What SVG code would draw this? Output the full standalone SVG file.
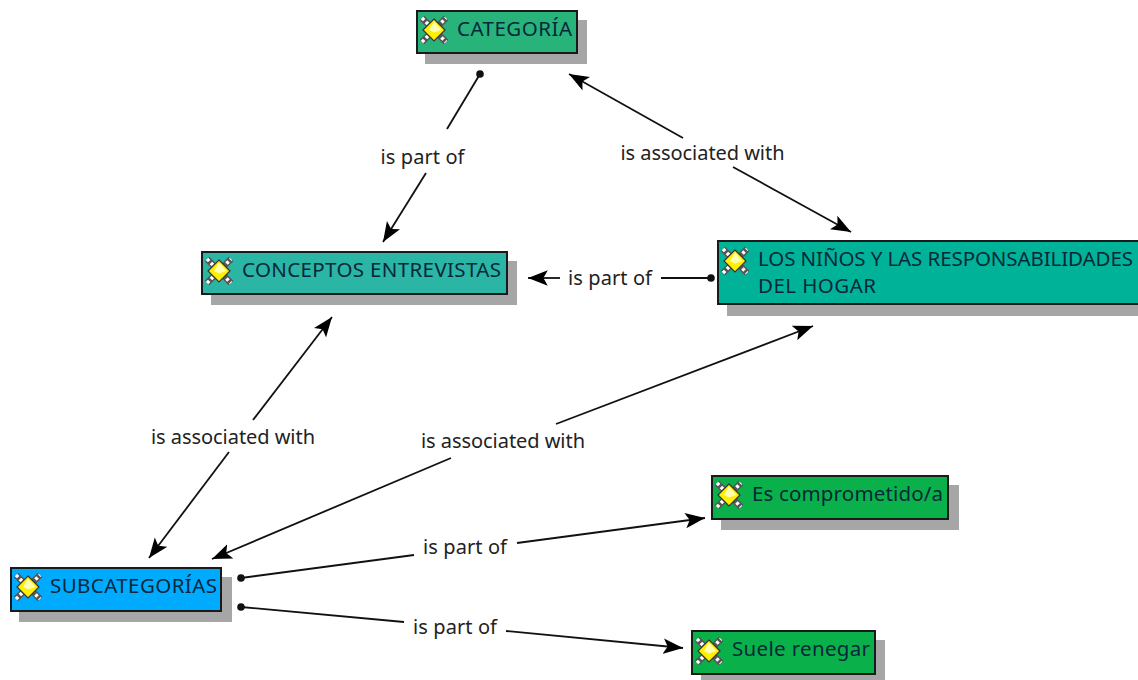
<svg xmlns="http://www.w3.org/2000/svg" width="1138" height="680" viewBox="0 0 1138 680">
<style>
text{font-family:"Noto Sans","DejaVu Sans",sans-serif;font-size:20px}
.n{fill:#06283a;font-size:20.500px}
.l{fill:#222;text-anchor:middle}
.s{fill:#a6a6a6}
.b{stroke:#1a1a1a;stroke-width:2}
.c{fill:none;stroke:#111;stroke-width:1.8}
</style>
<defs>
<marker id="a" markerUnits="userSpaceOnUse" markerWidth="22" markerHeight="16" refX="18" refY="7" orient="auto-start-reverse" viewBox="0 0 20 14"><path d="M0 0L18 7L0 14L4 7Z" fill="#000"/></marker>
<marker id="d" markerUnits="userSpaceOnUse" markerWidth="9" markerHeight="9" refX="4.500" refY="4.500" viewBox="0 0 9 9"><circle cx="4.500" cy="4.500" r="3.800" fill="#111"/></marker>
<g id="i">
<path d="M-12-12L12 12M-12 12L12-12" stroke="#555" stroke-width="6.500"/>
<path d="M-12-12L12 12M-12 12L12-12" stroke="#fff" stroke-width="3.500" stroke-dasharray="3 2.500"/>
<path d="M0-11L11 0L0 11L-11 0Z" fill="#ffef00" stroke="#333" stroke-width="1.200"/>
<path d="M0-8.500L7.500 0L0 2.500L-5 0Z" fill="#ffffb0"/>
</g>
</defs>
<g id="connectors">
<path class="c" marker-start="url(#d)" d="M480 74L447 129"/>
<path class="c" marker-end="url(#a)" d="M426 173L383 242"/>
<path class="c" marker-start="url(#a)" d="M569 74L683 138"/>
<path class="c" marker-end="url(#a)" d="M733 167L851 232"/>
<path class="c" marker-end="url(#a)" d="M560 278H528"/>
<path class="c" marker-start="url(#d)" d="M711 278H661"/>
<path class="c" marker-start="url(#a)" d="M332 317L253 420"/>
<path class="c" marker-end="url(#a)" d="M229 452L149 558"/>
<path class="c" marker-end="url(#a)" d="M556 424L813 326"/>
<path class="c" marker-end="url(#a)" d="M451 458L212 559"/>
<path class="c" marker-start="url(#d)" d="M241 578L414 555"/>
<path class="c" marker-end="url(#a)" d="M517 543L705 518"/>
<path class="c" marker-start="url(#d)" d="M241 607L404 622"/>
<path class="c" marker-end="url(#a)" d="M506 631L683 648"/>
<text class="l" x="422.500" y="164" textLength="84">is part of</text>
<text class="l" x="702.500" y="160" textLength="164">is associated with</text>
<text class="l" x="610" y="285" textLength="84">is part of</text>
<text class="l" x="233" y="444" textLength="164">is associated with</text>
<text class="l" x="503" y="448" textLength="164">is associated with</text>
<text class="l" x="465" y="554" textLength="84">is part of</text>
<text class="l" x="455" y="634" textLength="84">is part of</text>
</g>
<g id="categoria"><rect class="s" x="425" y="20" width="162" height="44"/><rect class="b" x="417" y="11" width="160" height="42" fill="#27b37a"/><use href="#i" x="434" y="30"/><text class="n" x="457" y="36" textLength="115">CATEGORÍA</text></g>
<g id="conceptos"><rect class="s" x="211" y="261" width="306" height="44"/><rect class="b" x="202" y="252" width="305" height="42" fill="#2bb5a5"/><use href="#i" x="219" y="271"/><text class="n" x="242" y="277" textLength="259">CONCEPTOS ENTREVISTAS</text></g>
<g id="ninos"><rect class="s" x="727" y="250" width="411" height="66"/><rect class="b" x="718" y="241" width="421" height="63" fill="#00b398"/><use href="#i" x="735" y="261"/><text class="n" x="758" y="266" textLength="375">LOS NIÑOS Y LAS RESPONSABILIDADES</text><text class="n" x="758" y="293" textLength="118">DEL HOGAR</text></g>
<g id="subcategorias"><rect class="s" x="19" y="577" width="213" height="45"/><rect class="b" x="11" y="568" width="210" height="43" fill="#00aaff"/><use href="#i" x="28" y="587"/><text class="n" x="50" y="593" textLength="167">SUBCATEGORÍAS</text></g>
<g id="comprometido"><rect class="s" x="721" y="485" width="238" height="45"/><rect class="b" x="712" y="476" width="236" height="43" fill="#0ab14a"/><use href="#i" x="729" y="495"/><text class="n" x="752" y="501" textLength="191">Es comprometido/a</text></g>
<g id="renegar"><rect class="s" x="701" y="640" width="184" height="40"/><rect class="b" x="692" y="631" width="183" height="43" fill="#0ab14a"/><use href="#i" x="709" y="651"/><text class="n" x="732" y="656" textLength="138">Suele renegar</text></g>
</svg>
